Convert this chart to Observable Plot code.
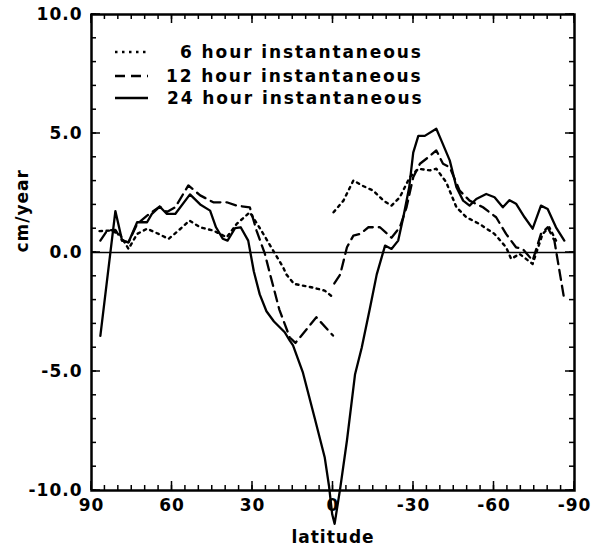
<!DOCTYPE html>
<html><head><meta charset="utf-8">
<script src="https://cdn.jsdelivr.net/npm/d3@7"></script>
<script src="https://cdn.jsdelivr.net/npm/@observablehq/plot@0.6"></script>
<style>
body{margin:0;background:#fff}
#wrap{position:relative;width:608px;height:548px}
</style></head><body><div id="wrap"></div>
<script>
// ---- data ----
const lat6 = [87.0,83.0,79.5,76.2,73.0,69.3,65.0,61.3,57.6,53.5,49.5,44.6,39.6,35.9,31.0,26.7,22.3,18.6,17.4,14.5,8.1,3.1,0.0,
  -0.1,
  -0.2,-3.9,-7.6,-10.7,-15.0,-18.8,-21.8,-24.9,-28.6,-31.8,-36.1,-38.5,-42.2,-46.0,-49.7,-54.6,-60.2,-64.5,-66.4,-69.5,-74.4,-78.1,-80.6,-83.1];
const val6 = [0.9,0.92,0.78,0.15,0.78,1.0,0.78,0.57,0.92,1.34,1.06,0.92,0.64,1.2,1.69,0.92,0.08,-0.62,-0.92,-1.32,-1.46,-1.6,-1.88,
  null,
  1.69,2.18,3.03,2.82,2.6,2.18,1.97,2.32,3.16,3.52,3.45,3.52,2.95,1.9,1.48,1.2,0.78,0.22,-0.27,-0.06,-0.48,0.78,1.06,0.5];

const lat12 = [86.7,84.2,81.1,78.6,76.2,73.0,69.3,64.6,61.9,58.8,53.9,49.5,44.6,39.6,35.9,31.0,28.5,25.4,23.6,20.0,16.1,14.0,6.2,0.0,
  -0.2,
  -0.5,-2.7,-5.2,-7.6,-10.1,-13.2,-17.5,-21.8,-24.9,-27.4,-29.9,-32.4,-35.5,-38.5,-41.0,-43.5,-47.2,-50.9,-55.9,-60.8,-64.5,-68.2,-70.7,-74.4,-77.5,-80.0,-82.5,-86.0];
const val12 = [0.5,0.92,0.95,0.5,0.43,1.2,1.55,1.93,1.7,1.9,2.82,2.4,2.11,2.11,1.97,1.9,0.92,-0.05,-0.85,-2.4,-3.57,-3.8,-2.72,-3.49,
  null,
  -1.3,-0.92,0.22,0.71,0.78,1.06,1.06,0.62,1.06,1.9,3.16,3.73,4.0,4.29,3.73,3.58,2.6,2.18,1.9,1.48,0.78,0.22,0.15,-0.34,0.78,1.06,0.5,-1.85];

const lat24 = [86.7,81.1,78.6,76.2,73.0,69.3,67.5,64.6,61.9,58.8,53.3,49.5,45.8,43.6,41.1,39.3,36.5,34.4,31.6,29.5,27.3,24.8,22.0,18.0,16.1,14.9,11.2,6.9,3.1,1.5,0.3,-0.6,
  -2.7,-5.2,-8.2,-10.7,-13.8,-16.3,-19.4,-21.8,-24.3,-26.2,-28.4,-29.9,-31.8,-34.2,-38.5,-40.4,-43.5,-46.0,-48.5,-50.9,-53.4,-57.1,-60.2,-63.3,-65.8,-68.2,-71.4,-74.4,-77.5,-80.0,-83.1,-86.2];
const val24 = [-3.5,1.74,0.5,0.43,1.27,1.27,1.62,1.93,1.62,1.62,2.44,2.02,1.76,1.06,0.58,0.5,1.02,1.06,0.5,-0.8,-1.76,-2.47,-2.9,-3.35,-3.7,-3.9,-5.05,-6.92,-8.6,-9.8,-11.0,-11.4,
  -9.9,-7.9,-5.13,-4.0,-2.32,-0.92,0.29,0.15,0.5,1.48,2.74,4.2,4.9,4.9,5.2,4.7,3.87,2.74,2.18,1.97,2.25,2.46,2.32,1.9,2.2,2.05,1.48,1.0,1.97,1.83,1.06,0.5];

const seriesNames = ["6 hour instantaneous", "12 hour instantaneous", "24 hour instantaneous"];
const xMajorTicks = [90, 60, 30, 0, -30, -60, -90];
const xMinorTicks = d3.range(-90, 91, 5);
const yMajorTicks = [-10, -5, 0, 5, 10];
const yMinorTicks = d3.range(-10, 11, 1);
const xLabel = "latitude";
const yLabel = "cm/year";

// ---- build rows ----
const rows = (lats, vals) => lats.map((lat, i) => ({lat, v: vals[i]}));
const d6 = rows(lat6, val6), d12 = rows(lat12, val12), d24 = rows(lat24, val24);

const FONT = "DejaVu Sans";
const txt = {fontSize: 17, fontWeight: "bold", fill: "black"};
const ns = "http://www.w3.org/2000/svg";

// inward tick marks on all four sides, positioned through Plot's scales
const tickMark = (index, scales, values, dims) => {
  const {x, y} = scales;
  const {width, height, marginLeft, marginRight, marginTop, marginBottom} = dims;
  const L = marginLeft, R = width - marginRight, T = marginTop, B = height - marginBottom;
  const g = document.createElementNS(ns, "g");
  const seg = (x1, y1, x2, y2) => {
    const l = document.createElementNS(ns, "line");
    l.setAttribute("x1", x1); l.setAttribute("y1", y1);
    l.setAttribute("x2", x2); l.setAttribute("y2", y2);
    l.setAttribute("stroke", "black"); l.setAttribute("stroke-width", 1.5);
    g.appendChild(l);
  };
  const xt = (ticks, len) => ticks.forEach(d => { const px = x(d); seg(px, B, px, B - len); seg(px, T, px, T + len); });
  const yt = (ticks, len) => ticks.forEach(d => { const py = y(d); seg(L, py, L + len, py); seg(R, py, R - len, py); });
  xt(xMinorTicks, 5); xt(xMajorTicks, 9);
  yt(yMinorTicks, 5); yt(yMajorTicks, 9);
  return g;
};

// legend (not data) drawn inside the plot
const dashes = ["2.5,4.5", "10,6", null];
const legendMark = () => {
  const g = document.createElementNS(ns, "g");
  const rowY = [52, 76, 98];
  const textX = [180, 166, 167];
  seriesNames.forEach((name, i) => {
    const l = document.createElementNS(ns, "line");
    l.setAttribute("x1", 115); l.setAttribute("x2", 148);
    l.setAttribute("y1", rowY[i]); l.setAttribute("y2", rowY[i]);
    l.setAttribute("stroke", "black"); l.setAttribute("stroke-width", 2.3);
    if (dashes[i]) l.setAttribute("stroke-dasharray", dashes[i]);
    g.appendChild(l);
    const t = document.createElementNS(ns, "text");
    t.setAttribute("x", textX[i]); t.setAttribute("y", rowY[i]);
    t.setAttribute("dy", "0.36em");
    t.setAttribute("text-anchor", "start");
    t.setAttribute("font-size", 17);
    t.setAttribute("letter-spacing", "1.9px");
    t.setAttribute("fill", "black");
    t.textContent = name;
    g.appendChild(t);
  });
  return g;
};

const plot = Plot.plot({
  width: 608, height: 548,
  marginLeft: 91, marginRight: 34, marginTop: 14, marginBottom: 58,
  style: {fontFamily: FONT, fontSize: "17px", fontWeight: "bold", letterSpacing: "1px"},
  x: {domain: [90, -90]},
  y: {domain: [-10, 10]},
  marks: [
    // tick labels
    Plot.axisX(xMajorTicks, {anchor: "bottom", tickSize: 0, tickPadding: 8, tickFormat: d => String(d), label: null, ...txt}),
    Plot.axisY(yMajorTicks, {anchor: "left", tickSize: 0, tickPadding: 9, tickFormat: d => d.toFixed(1), label: null, ...txt}),
    // axis titles
    Plot.text([xLabel], {frameAnchor: "bottom", dy: 47, text: d => d, lineAnchor: "middle", ...txt}),
    Plot.text([yLabel], {frameAnchor: "left", dx: -69, rotate: -90, text: d => d, lineAnchor: "middle", ...txt}),
    // zero line
    Plot.ruleY([0], {strokeWidth: 1.6}),
    // series
    Plot.line(d6, {x: "lat", y: "v", stroke: "black", strokeWidth: 2.4, strokeDasharray: "2.5,4.5"}),
    Plot.line(d12, {x: "lat", y: "v", stroke: "black", strokeWidth: 2.3, strokeDasharray: "10,6"}),
    Plot.line(d24, {x: "lat", y: "v", stroke: "black", strokeWidth: 2.3}),
    Plot.frame({stroke: "black", strokeWidth: 2.5}),
    tickMark,
    legendMark
  ]
});

document.getElementById("wrap").appendChild(plot);
</script></body></html>
